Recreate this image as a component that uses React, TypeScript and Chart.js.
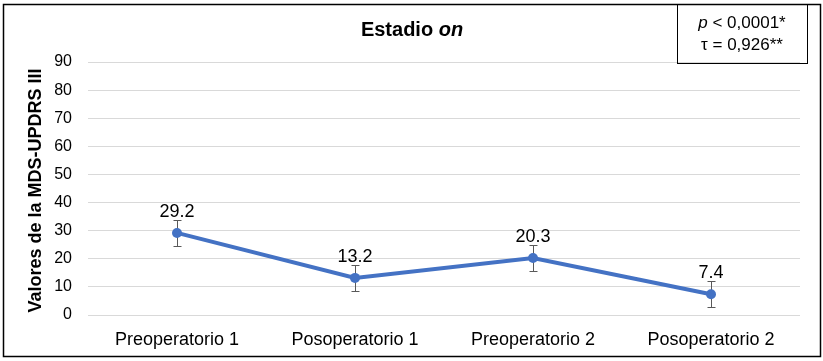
import React, { useEffect, useRef } from "react";
import { Chart, registerables } from "chart.js";

Chart.register(...registerables);

const categories = ["Preoperatorio 1", "Posoperatorio 1", "Preoperatorio 2", "Posoperatorio 2"];
const values = [29.2, 13.2, 20.3, 7.4];
const errors = [4.6, 4.6, 4.6, 4.7];
const yTicks = [0, 10, 20, 30, 40, 50, 60, 70, 80, 90];
const titleMain = "Estadio ";
const titleItalic = "on";
const yTitle = "Valores de la MDS-UPDRS III";
const statP = "p";
const statPRest = " < 0,0001*";
const statTau = "τ = 0,926**";

const FONT = "'Liberation Sans', Arial, sans-serif";

const decorPlugin = {
  id: "decor",
  beforeDatasetsDraw(chart: any) {
    const { ctx } = chart;
    const x = chart.scales.x;
    const y = chart.scales.y;
    ctx.save();
    ctx.strokeStyle = "#595959";
    ctx.lineWidth = 1;
    values.forEach((v, i) => {
      const px = Math.round(x.getPixelForValue(i)) + 0.5;
      const top = Math.round(y.getPixelForValue(v + errors[i])) + 0.5;
      const bot = Math.round(y.getPixelForValue(v - errors[i])) + 0.5;
      ctx.beginPath();
      ctx.moveTo(px, top);
      ctx.lineTo(px, bot);
      ctx.moveTo(px - 4, top);
      ctx.lineTo(px + 4, top);
      ctx.moveTo(px - 4, bot);
      ctx.lineTo(px + 4, bot);
      ctx.stroke();
    });
    ctx.restore();
  },
  afterDatasetsDraw(chart: any) {
    const { ctx } = chart;
    const x = chart.scales.x;
    const y = chart.scales.y;
    ctx.save();
    // data labels
    ctx.fillStyle = "#000";
    ctx.font = `18px ${FONT}`;
    ctx.textAlign = "center";
    ctx.textBaseline = "alphabetic";
    values.forEach((v, i) => {
      const px = x.getPixelForValue(i);
      const top = y.getPixelForValue(v + errors[i]);
      ctx.fillText(v.toFixed(1), px, top - 3);
    });

    // title
    ctx.textBaseline = "middle";
    ctx.textAlign = "left";
    ctx.font = `bold 20px ${FONT}`;
    const w1 = ctx.measureText(titleMain).width;
    ctx.font = `italic bold 20px ${FONT}`;
    const w2 = ctx.measureText(titleItalic).width;
    const tx = 412 - (w1 + w2) / 2;
    ctx.font = `bold 20px ${FONT}`;
    ctx.fillText(titleMain, tx, 30);
    ctx.font = `italic bold 20px ${FONT}`;
    ctx.fillText(titleItalic, tx + w1, 30);

    // y title
    ctx.save();
    ctx.translate(36, (chart.chartArea.top + chart.chartArea.bottom) / 2 + 2);
    ctx.rotate(-Math.PI / 2);
    ctx.textAlign = "center";
    ctx.font = `bold 18px ${FONT}`;
    ctx.fillText(yTitle, 0, 0);
    ctx.restore();

    // stats box
    ctx.strokeStyle = "#000";
    ctx.lineWidth = 1;
    ctx.strokeRect(677.5, 4.5, 130, 59);
    ctx.font = `italic 17px ${FONT}`;
    const pw = ctx.measureText(statP).width;
    ctx.font = `17px ${FONT}`;
    const rw = ctx.measureText(statPRest).width;
    const bx = 742 - (pw + rw) / 2;
    ctx.font = `italic 17px ${FONT}`;
    ctx.fillText(statP, bx, 23);
    ctx.font = `17px ${FONT}`;
    ctx.fillText(statPRest, bx + pw, 23);
    ctx.textAlign = "center";
    ctx.fillText(statTau, 742, 45);

    // outer border
    ctx.lineWidth = 1.5;
    ctx.strokeRect(3.5, 4.5, 817, 352);
    ctx.restore();
  },
};

export default function App() {
  const ref = useRef<HTMLCanvasElement>(null);
  useEffect(() => {
    if (!ref.current) return;
    const chart = new Chart(ref.current, {
      type: "line",
      data: {
        labels: categories,
        datasets: [
          {
            data: values,
            borderColor: "#4472C4",
            backgroundColor: "#4472C4",
            borderWidth: 4,
            pointRadius: 5,
            pointHoverRadius: 5,
            pointBorderWidth: 0,
            tension: 0,
          },
        ],
      },
      options: {
        responsive: false,
        animation: false,
        devicePixelRatio: 1,
        layout: { padding: { left: 0, top: 62, right: 23, bottom: 0 } },
        plugins: {
          legend: { display: false },
          tooltip: { enabled: false },
          title: { display: false },
        },
        scales: {
          x: {
            offset: true,
            grid: { display: false, offset: true },
            border: { display: false },
            ticks: {
              color: "#000",
              font: { family: FONT, size: 18 },
              padding: 6,
              maxRotation: 0,
              autoSkip: false,
            },
            afterFit: (s: any) => {
              s.height = 46;
            },
          },
          y: {
            min: 0,
            max: 90,
            afterBuildTicks: (s: any) => {
              s.ticks = yTicks.map((v) => ({ value: v }));
            },
            grid: { color: "#d9d9d9", lineWidth: 1, drawTicks: false },
            border: { display: false },
            ticks: {
              color: "#000",
              font: { family: FONT, size: 16 },
              padding: 16,
            },
            afterFit: (s: any) => {
              s.width = 88;
            },
          },
        },
      },
      plugins: [decorPlugin],
    });
    return () => chart.destroy();
  }, []);
  return (
    <div style={{ position: "absolute", left: 0, top: 0, width: 823, height: 361, background: "#fff" }}>
      <canvas ref={ref} width={823} height={361} style={{ display: "block" }} />
    </div>
  );
}
